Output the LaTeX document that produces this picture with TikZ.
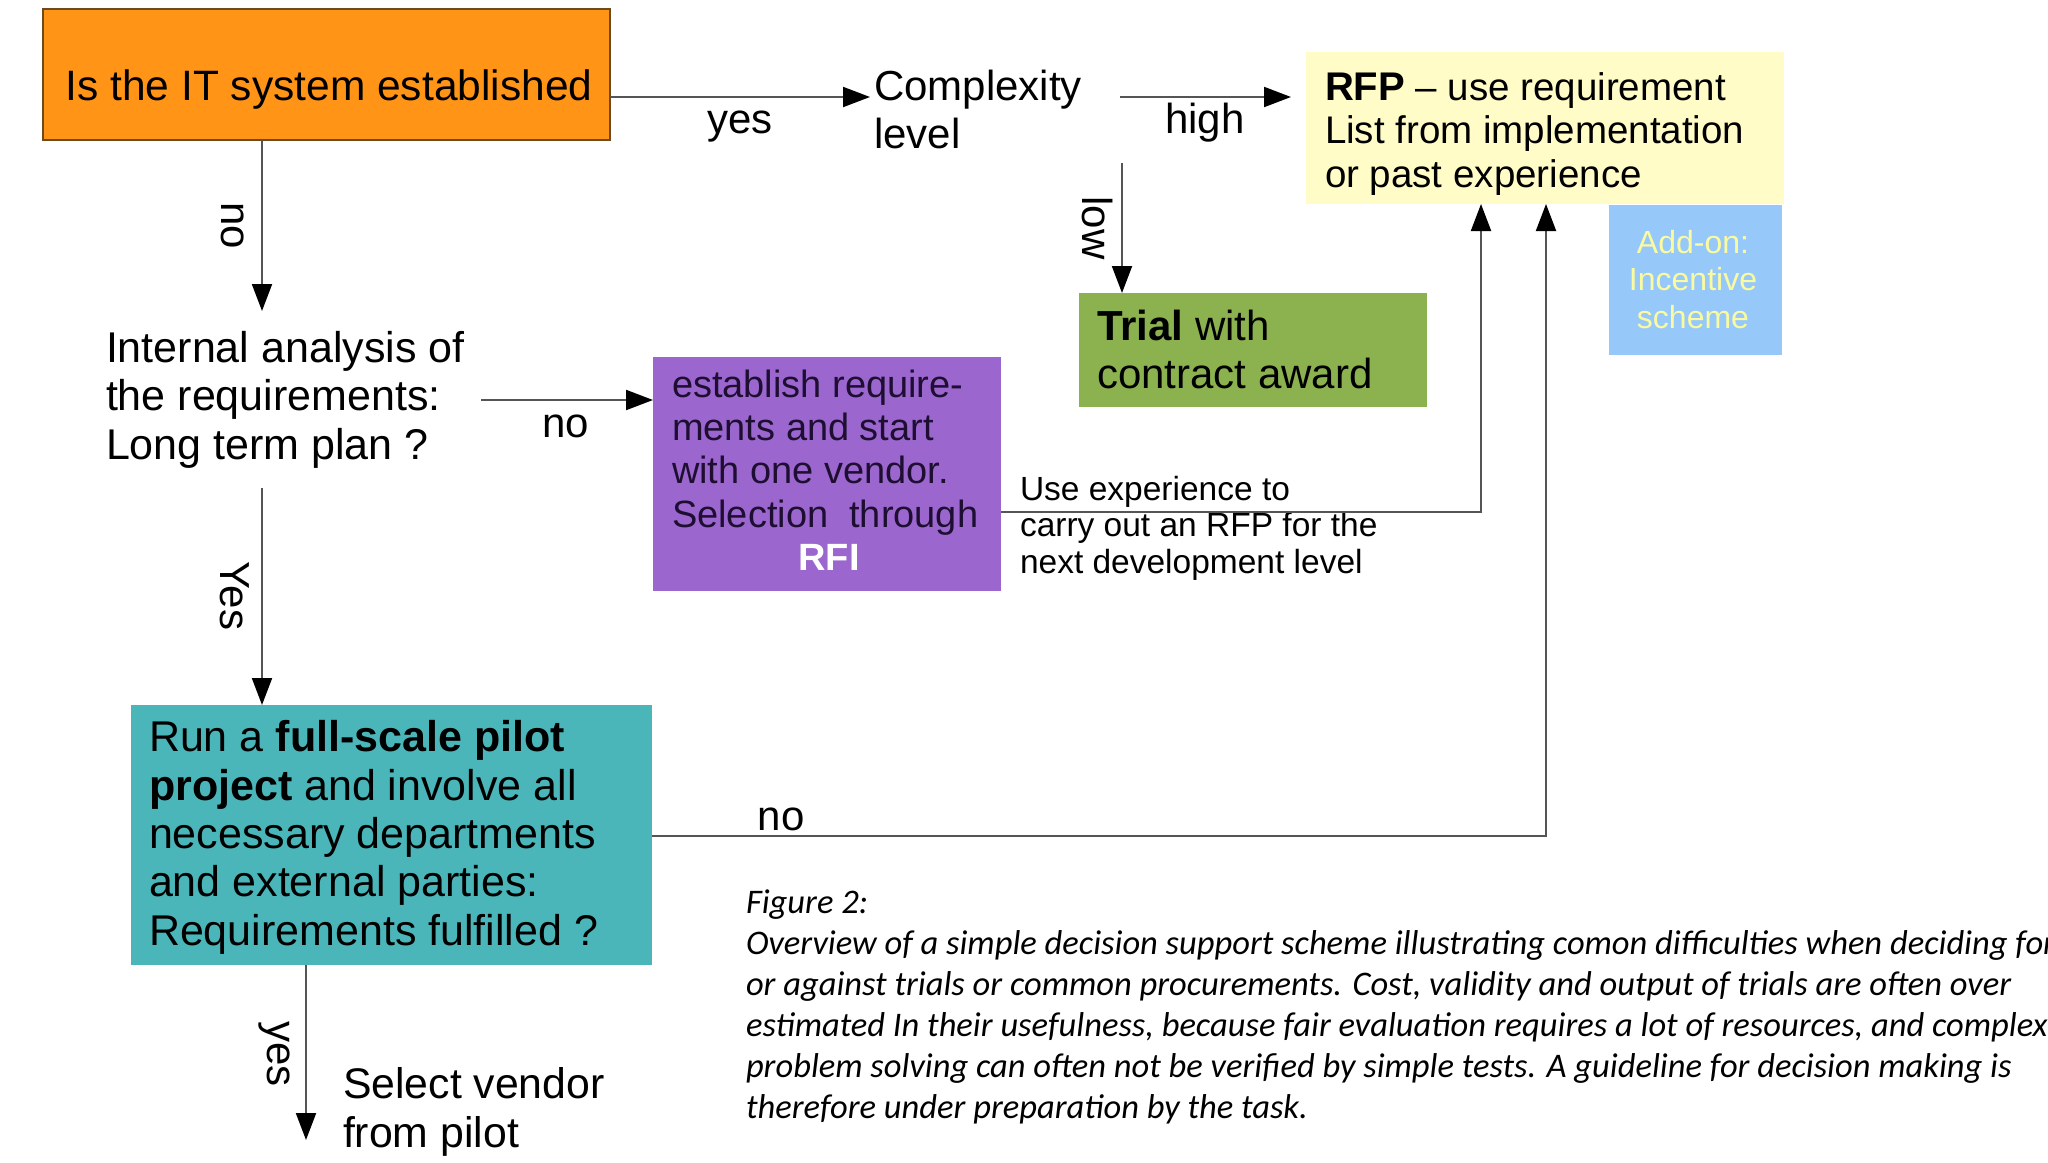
\documentclass[tikz,border=0pt]{standalone}
\usepackage{fontspec}
\setmainfont{Liberation Sans}
\newfontfamily\capfont{Carlito}
\usetikzlibrary{arrows.meta}
\definecolor{qorange}{RGB}{255,148,22}
\definecolor{qborder}{RGB}{110,75,30}
\definecolor{qyellow}{RGB}{255,252,200}
\definecolor{qblue}{RGB}{150,200,250}
\definecolor{qbluetext}{RGB}{250,250,160}
\definecolor{qgreen}{RGB}{140,178,80}
\definecolor{qpurple}{RGB}{155,102,206}
\definecolor{qteal}{RGB}{74,182,185}
\definecolor{qline}{RGB}{85,85,85}
\definecolor{qdark}{RGB}{30,15,50}
\begin{document}
\begin{tikzpicture}[x=1pt,y=-1pt,
  boxst/.style={rectangle, inner sep=0pt, outer sep=0pt},
  para/.style={inner sep=0pt, outer sep=0pt, anchor=base west, align=left},
  lbl/.style={inner sep=0pt, outer sep=0pt, anchor=base, font=\fontsize{42}{48}\selectfont},
  vlbl/.style={inner sep=0pt, outer sep=0pt, rotate=-90, font=\fontsize{42}{48}\selectfont},
  conn/.style={draw=qline, line width=2pt, -{Triangle[length=27pt,width=20pt,color=black]}}]
\useasboundingbox (0,0) rectangle (2048,1162);
\fill[white] (0,0) rectangle (2048,1162);

% boxes (multi-line texts are anchored at the baseline of their last line)
\node[boxst, fill=qorange, draw=qborder, line width=1.5pt, minimum width=567pt, minimum height=131pt] (q1) at (326.5,74.5) {};
\node[lbl, font=\fontsize{42.5}{48}\selectfont] (q1t) at (329,100) {Is the IT system established};

\node[para, font=\fontsize{42}{48}\selectfont] (cx) at (874,148) {Complexity\\level};

\node[boxst, fill=qyellow, minimum width=478pt, minimum height=152pt] (rfp) at (1545,128) {};
\node[para, font=\fontsize{38.5}{43.5}\selectfont] (rfpt) at (1325,187) {{\fontsize{40}{43.5}\selectfont\bfseries RFP} – use requirement\\List from implementation\\or past experience};

\node[boxst, fill=qblue, minimum width=173pt, minimum height=150pt] (addon) at (1695.5,280) {};
\node[inner sep=0pt, anchor=base, align=center, text=qbluetext, font=\fontsize{32}{37.5}\selectfont] (addont) at (1693,328) {Add-on:\\Incentive\\scheme};

\node[boxst, fill=qgreen, minimum width=348pt, minimum height=114pt] (trial) at (1253,350) {};
\node[para, font=\fontsize{42}{48}\selectfont] (trialt) at (1097,388) {\textbf{Trial} with\\contract award};

\node[para, font=\fontsize{43}{48.5}\selectfont] (ia) at (106,459) {Internal analysis of\\the requirements:\\Long term plan ?};

\node[boxst, fill=qpurple, minimum width=348pt, minimum height=234pt] (est) at (827,474) {};
\node[para, text=qdark, font=\fontsize{38}{43.3}\selectfont] (estt) at (672,527) {establish require-\\ments and start\\with one vendor.\\Selection\ \ through};
\node[inner sep=0pt, anchor=base, text=white, font=\fontsize{38}{43}\selectfont\bfseries] (rfi) at (829,570) {RFI};

\node[para, font=\fontsize{33.5}{36.5}\selectfont] (usexp) at (1020,573) {Use experience to\\carry out an RFP for the\\next development level};

\node[boxst, fill=qteal, minimum width=521pt, minimum height=260pt] (pilot) at (391.5,835) {};
\node[para, font=\fontsize{43}{48.3}\selectfont] (pilott) at (149,945) {Run a \textbf{full-scale pilot}\\\textbf{project} and involve all\\necessary departments\\and external parties:\\Requirements fulfilled ?};

\node[para, font=\fontsize{42.8}{49}\selectfont] (sel) at (343,1147) {Select vendor\\from pilot};

% connectors
\coordinate (t1) at (870,97);
\draw[conn] (q1.east |- t1) -- (t1);
\node[lbl] (lyes1) at (740,133) {yes};

\coordinate (s2) at (1120,97);
\coordinate (t2) at (1291,97);
\draw[conn] (s2) -- (t2);
\node[lbl] (lhigh) at (1205,133) {high};

\coordinate (s3) at (1122,163);
\draw[conn] (s3) -- (trial.north -| s3);
\node[vlbl] (llow) at (1097,228) {low};

\coordinate (t4) at (262,311);
\draw[conn] (q1.south -| t4) -- (t4);
\node[vlbl] (lno1) at (233,226) {no};

\coordinate (s5) at (481,400);
\draw[conn] (s5) -- (est.west |- s5);
\node[lbl] (lno2) at (566,437) {no};

\coordinate (s6) at (262,488);
\draw[conn] (s6) -- (pilot.north -| s6);
\node[vlbl] (lyes2) at (235,596) {Yes};

\coordinate (k7) at (1481,512);
\draw[conn] (est.east |- k7) -- (k7) -- (rfp.south -| k7);

\coordinate (k8) at (1546,836);
\draw[conn] (pilot.east |- k8) -- (k8) -- (rfp.south -| k8);
\node[lbl] (lno3) at (781,830) {no};

\coordinate (t9) at (306,1140);
\draw[conn] (pilot.south -| t9) -- (t9);
\node[vlbl] (lyes3) at (274,1054) {yes};

% caption
\begin{scope}
\clip (0,0) rectangle (2048,1162);
\node[para, font=\capfont\itshape\fontsize{34.5}{41}\selectfont] (cap) at (746,1118) {Figure 2:\\Overview of a simple decision support scheme illustrating comon difficulties when deciding for\\or against trials or common procurements. Cost, validity and output of trials are often over\\estimated In their usefulness, because fair evaluation requires a lot of resources, and complex\\problem solving can often not be verified by simple tests. A guideline for decision making is\\therefore under preparation by the task.};
\end{scope}
\end{tikzpicture}
\end{document}
